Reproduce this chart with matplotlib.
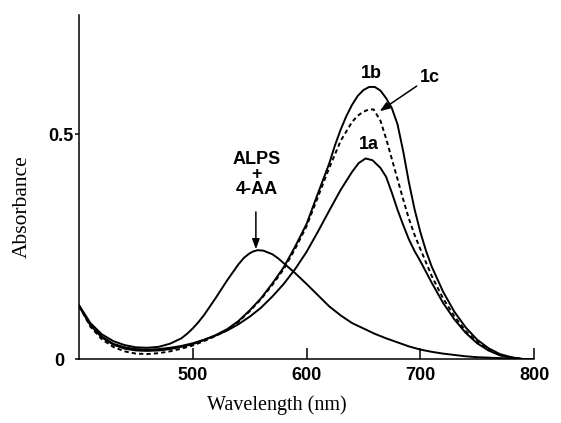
import matplotlib
matplotlib.use("Agg")
import matplotlib.pyplot as plt
from matplotlib.transforms import ScaledTranslation

# ---- data ----
wl_alps = [400, 410, 420, 430, 440, 450, 460, 470, 480, 490, 495, 500, 505, 510, 520, 530,
           540, 545, 550, 553, 557, 562, 570, 575, 580, 590, 600, 610, 620, 630, 640, 650,
           660, 670, 680, 690, 700, 710, 720, 730, 740, 750, 760, 770, 780, 790, 800]
abs_alps = [0.120, 0.080, 0.055, 0.040, 0.031, 0.026, 0.025, 0.027, 0.034, 0.046, 0.056,
            0.068, 0.082, 0.098, 0.135, 0.174, 0.210, 0.225, 0.235, 0.239, 0.242, 0.241,
            0.233, 0.224, 0.213, 0.191, 0.167, 0.142, 0.117, 0.097, 0.080, 0.068, 0.056,
            0.046, 0.037, 0.028, 0.021, 0.016, 0.012, 0.009, 0.006, 0.004, 0.003, 0.002,
            0.001, 0.000, 0.000]

wl_1a = [400, 410, 420, 430, 440, 450, 460, 470, 480, 490, 500, 510, 520, 530, 540, 550,
         560, 570, 580, 590, 600, 610, 620, 630, 640, 646, 652, 658, 665, 670, 675, 680,
         685, 690, 695, 700, 710, 720, 730, 740, 750, 760, 770, 780, 790, 800]
abs_1a = [0.118, 0.077, 0.050, 0.034, 0.026, 0.022, 0.021, 0.022, 0.025, 0.029, 0.035,
          0.043, 0.052, 0.063, 0.077, 0.094, 0.114, 0.139, 0.167, 0.200, 0.238, 0.283,
          0.330, 0.376, 0.416, 0.436, 0.446, 0.442, 0.425, 0.405, 0.370, 0.332, 0.298,
          0.266, 0.240, 0.218, 0.170, 0.125, 0.088, 0.058, 0.035, 0.019, 0.008, 0.003,
          0.000, 0.000]

wl_1b = [400, 410, 420, 430, 440, 450, 460, 470, 480, 490, 500, 510, 520, 530, 540, 550,
         560, 570, 580, 590, 600, 610, 620, 625, 630, 635, 640, 645, 650, 655, 660, 665,
         670, 675, 680, 685, 690, 695, 700, 705, 710, 720, 730, 740, 750, 760, 770, 780,
         790, 800]
abs_1b = [0.118, 0.075, 0.048, 0.032, 0.023, 0.019, 0.018, 0.019, 0.022, 0.027, 0.033,
          0.042, 0.053, 0.066, 0.084, 0.108, 0.135, 0.168, 0.204, 0.250, 0.300, 0.368,
          0.435, 0.475, 0.510, 0.540, 0.565, 0.585, 0.598, 0.605, 0.605, 0.597, 0.580,
          0.558, 0.522, 0.462, 0.393, 0.333, 0.283, 0.241, 0.206, 0.150, 0.105, 0.070,
          0.043, 0.024, 0.011, 0.004, 0.000, 0.000]

wl_1c = [400, 410, 420, 430, 440, 450, 460, 470, 480, 490, 500, 510, 520, 530, 540, 550,
         560, 570, 580, 590, 600, 610, 620, 630, 640, 645, 650, 655, 659, 665, 670, 675,
         680, 685, 690, 695, 700, 710, 720, 730, 740, 750, 760, 770, 780, 790, 800]
abs_1c = [0.118, 0.072, 0.044, 0.027, 0.017, 0.012, 0.011, 0.013, 0.017, 0.023, 0.030,
          0.040, 0.051, 0.064, 0.082, 0.106, 0.133, 0.165, 0.200, 0.245, 0.295, 0.360,
          0.425, 0.485, 0.527, 0.541, 0.550, 0.555, 0.555, 0.530, 0.490, 0.445, 0.400,
          0.355, 0.312, 0.276, 0.245, 0.185, 0.135, 0.095, 0.062, 0.038, 0.020, 0.009,
          0.003, 0.000, 0.000]

x_ticks = [500, 600, 700, 800]
y_ticks = [0, 0.5]
y_tick_labels = ["0", "0.5"]

# ---- figure ----
fig = plt.figure(figsize=(5.61, 4.23), dpi=100)
ax = fig.add_axes([0.1408, 0.1513, 0.8111, 0.8132])

lw = 1.4
common = dict(color="black", lw=lw, solid_joinstyle="round", solid_capstyle="round")
ax.plot(wl_alps, abs_alps, **common)
ax.plot(wl_1a, abs_1a, **common)
ax.plot(wl_1b, abs_1b, **common)
ax.plot(wl_1c, abs_1c, color="black", lw=lw, linestyle=(0, (2.2, 1.6)),
        dash_joinstyle="round")

ax.set_xlim(400, 800)
ax.set_ylim(0, 0.765)

for s in ("top", "right"):
    ax.spines[s].set_visible(False)
for s in ("left", "bottom"):
    ax.spines[s].set_linewidth(1.1)

tick_font = dict(family="Liberation Sans", weight="bold", size=13)
ax.set_xticks(x_ticks)
ax.set_xticklabels([str(t) for t in x_ticks], fontdict=tick_font)
ax.set_yticks(y_ticks)
ax.set_yticklabels(y_tick_labels, fontdict=tick_font)
ax.tick_params(axis="x", direction="in", length=8, width=1.1, pad=6)
ax.tick_params(axis="y", direction="out", length=3, width=1.1, pad=1)

# the "0" label sits further left than "0.5" in the reference
zero_lbl = ax.yaxis.get_major_ticks()[0].label1
zero_lbl.set_transform(zero_lbl.get_transform() +
                       ScaledTranslation(-0.09, 0, fig.dpi_scale_trans))

serif = "Liberation Serif"
ax.set_xlabel("Wavelength (nm)", family=serif, size=14.5)
ax.xaxis.set_label_coords(0.435, -0.105)
ax.set_ylabel("Absorbance", family=serif, size=15.5, va="center")
ax.yaxis.set_label_coords(-0.125, 0.442)

ann = dict(family="Liberation Sans", weight="bold", size=13, ha="center", va="center")
ax.text(556, 0.411, "ALPS\n+\n4-AA", linespacing=0.85, **ann)
ax.text(656.8, 0.634, "1b", **ann)
ax.text(708.4, 0.627, "1c", **ann)
ax.text(654.6, 0.478, "1a", **ann)

arrow = dict(arrowstyle="-|>,head_length=0.6,head_width=0.22", color="black", lw=1.1,
             shrinkA=0, shrinkB=0)
ax.annotate("", xy=(555.5, 0.244), xytext=(555.5, 0.327), arrowprops=arrow)
ax.annotate("", xy=(664.3, 0.551), xytext=(696.9, 0.607), arrowprops=arrow)

fig.savefig("out.png", dpi=100)
